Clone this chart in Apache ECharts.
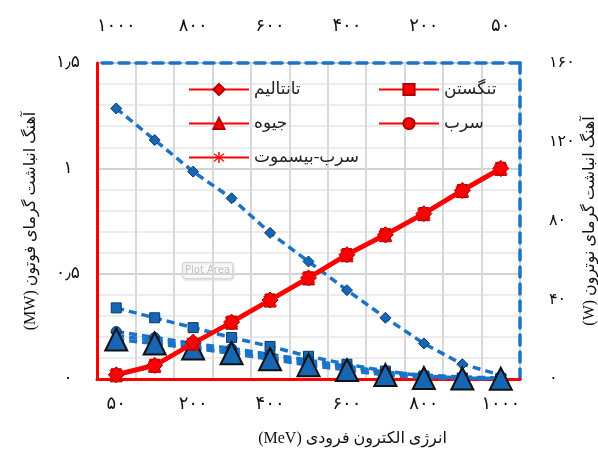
<!DOCTYPE html>
<html>
<head>
<meta charset="utf-8">
<script src="https://cdn.jsdelivr.net/npm/echarts@6/dist/echarts.min.js"></script>
<style>
  html, body { margin: 0; padding: 0; background: #fff; }
  #chart { width: 598px; height: 449px; }
</style>
</head>
<body>
<div id="chart"></div>
<script>
// Incident electron energy (MeV)
const categories = ['50', '100', '200', '300', '400', '500', '600', '700', '800', '900', '1000'];

// Material names (legend)
const materials = ['تانتالیم', 'تنگستن', 'جیوه', 'سرب', 'سرب-بیسموت'];

// Photon heat deposition rate (MW), left axis
const photonTantalum    = [0.02, 0.065, 0.175, 0.27, 0.375, 0.48, 0.59, 0.685, 0.785, 0.895, 1.0];
const photonTungsten    = [0.025, 0.07, 0.17, 0.275, 0.38, 0.485, 0.595, 0.69, 0.79, 0.9, 1.005];
const photonMercury     = [0.015, 0.06, 0.165, 0.265, 0.37, 0.475, 0.585, 0.68, 0.78, 0.89, 0.995];
const photonLead        = [0.02, 0.065, 0.17, 0.27, 0.375, 0.48, 0.59, 0.685, 0.785, 0.895, 1.0];
const photonLeadBismuth = [0.02, 0.06, 0.17, 0.27, 0.37, 0.48, 0.59, 0.68, 0.785, 0.89, 0.995];

// Neutron heat deposition rate (W), right axis
const neutronTantalum    = [137, 121, 105, 91.5, 74, 59.5, 45, 31, 18, 7.5, 2];
const neutronTungsten    = [36, 31, 26, 21, 16.5, 11.5, 7.5, 4, 1.5, 0.5, 0.2];
const neutronMercury     = [20, 18, 15.5, 13, 10, 7, 4.5, 2, 0.5, 0.2, 0.1];
const neutronLead        = [24, 21, 18, 15.5, 12.5, 9.5, 6.5, 3.5, 2, 1, 0.5];
const neutronLeadBismuth = [22, 19.5, 16.5, 14, 11, 8.5, 5.5, 3, 1.5, 0.8, 0.3];

// Axis ticks
const leftTicks = [0, 0.5, 1, 1.5];
const rightTicks = [0, 40, 80, 120, 160];

const FA_DIGITS = '۰۱۲۳۴۵۶۷۸۹';
function toPersian(v) {
  return String(v).replace(/[0-9]/g, d => FA_DIGITS[+d]).replace('.', '٫');
}
function rtl(s) { return '\u202B' + s + '\u202C'; }

const FONT = 'Liberation Serif, DejaVu Sans';
const RED = '#ff0000';
const BLUE = '#1a73c6';

const asterisk = 'path://M-1,-10L1,-10L1,10L-1,10Z' +
  'M-6.3,-7.7L7.7,6.3L6.3,7.7L-7.7,-6.3Z' +
  'M-6.3,7.7L7.7,-6.3L6.3,-7.7L-7.7,6.3Z';

const symbols = ['diamond', 'rect', 'triangle', 'circle', asterisk];
const redSizes = [16, 10, 12, 10, 14];
const redZ = [6, 5, 5, 5, 5];
const blueSizes = [11, 10, 22, 10, 11];
const photon = [photonTantalum, photonTungsten, photonMercury, photonLead, photonLeadBismuth];
const neutron = [neutronTantalum, neutronTungsten, neutronMercury, neutronLead, neutronLeadBismuth];

const series = [];
materials.forEach((name, i) => {
  series.push({
    name: name,
    type: 'line',
    xAxisIndex: 0,
    yAxisIndex: 0,
    data: photon[i],
    symbol: symbols[i],
    symbolSize: redSizes[i],
    clip: false,
    z: redZ[i],
    lineStyle: { color: RED, width: 3 },
    itemStyle: { color: RED, borderColor: '#b00000', borderWidth: i === 4 ? 0 : 1 }
  });
});
materials.forEach((name, i) => {
  const tri = symbols[i] === 'triangle';
  series.push({
    name: name,
    type: 'line',
    xAxisIndex: 0,
    yAxisIndex: 1,
    data: neutron[i],
    symbol: symbols[i],
    symbolSize: blueSizes[i],
    clip: false,
    z: tri ? 4 : 3,
    lineStyle: { color: BLUE, width: 3.5, type: [8, 5] },
    itemStyle: {
      color: '#1766b3',
      borderColor: tri ? '#111' : '#0b3a68',
      borderWidth: tri ? 2 : 1
    }
  });
});

const legendText = { fontFamily: FONT, fontSize: 17, color: '#222' };

const option = {
  animation: false,
  backgroundColor: '#fff',
  textStyle: { fontFamily: FONT },
  grid: { left: 97, right: 78, top: 63, bottom: 70, containLabel: false, outerBoundsMode: 'none' },
  legend: [
    {
      data: [materials[0], materials[2], materials[4]],
      orient: 'vertical', left: 183, top: 76,
      itemWidth: 60, itemHeight: 14, itemGap: 17,
      textStyle: legendText,
      formatter: n => rtl(n)
    },
    {
      data: [materials[1], materials[3]],
      orient: 'vertical', left: 373, top: 76,
      itemWidth: 60, itemHeight: 14, itemGap: 17,
      textStyle: legendText,
      formatter: n => rtl(n)
    }
  ],
  xAxis: [
    {
      type: 'category',
      data: categories,
      position: 'bottom',
      boundaryGap: true,
      name: rtl('انرژی الکترون فرودی (MeV)'),
      nameLocation: 'middle',
      nameGap: 52,
      nameMoveOverlap: false,
      nameTextStyle: { fontFamily: FONT, fontSize: 16, color: '#111', padding: [0, 0, 0, 88] },
      axisLine: { show: true, onZero: false, lineStyle: { color: RED, width: 3 } },
      axisTick: { show: false },
      axisLabel: { interval: 1, margin: 16, fontSize: 18, color: '#111', formatter: v => toPersian(v) },
      splitLine: { show: true, interval: 0, lineStyle: { color: '#d9d9d9', width: 2 } }
    },
    {
      type: 'category',
      data: categories,
      position: 'top',
      inverse: true,
      boundaryGap: true,
      axisLine: { show: true, onZero: false, lineStyle: { color: BLUE, width: 3.5, type: [10, 7] } },
      axisTick: { show: false },
      axisLabel: { interval: 1, margin: 28, fontSize: 18, color: '#111', formatter: v => toPersian(v) },
      splitLine: { show: false }
    }
  ],
  yAxis: [
    {
      type: 'value',
      position: 'left',
      min: leftTicks[0],
      max: leftTicks[leftTicks.length - 1],
      interval: 0.5,
      name: rtl('آهنگ انباشت گرمای فوتون (MW)'),
      nameLocation: 'middle',
      nameRotate: 90,
      nameGap: 58,
      nameMoveOverlap: false,
      nameTextStyle: { fontFamily: FONT, fontSize: 16, color: '#111' },
      axisLine: { show: true, onZero: false, lineStyle: { color: RED, width: 3 } },
      axisTick: { show: false },
      axisLabel: { margin: 29, align: 'center', fontSize: 17, color: '#111', formatter: v => toPersian(v) },
      splitLine: { show: true, lineStyle: { color: '#d2d2d2', width: 2 } },
      minorTick: { show: false, splitNumber: 5 },
      minorSplitLine: { show: true, lineStyle: { color: '#ececec', width: 2 } }
    },
    {
      type: 'value',
      position: 'right',
      min: rightTicks[0],
      max: rightTicks[rightTicks.length - 1],
      interval: 40,
      name: rtl('آهنگ انباشت گرمای نوترون (W)'),
      nameLocation: 'middle',
      nameRotate: 90,
      nameGap: 62,
      nameMoveOverlap: false,
      nameTextStyle: { fontFamily: FONT, fontSize: 16, color: '#111' },
      axisLine: { show: true, onZero: false, lineStyle: { color: BLUE, width: 3.5, type: [10, 7] } },
      axisTick: { show: false },
      axisLabel: { margin: 29, fontSize: 16, color: '#111', formatter: v => toPersian(v) },
      splitLine: { show: false }
    }
  ],
  graphic: [
    {
      type: 'group',
      left: 182, top: 262, z: 10,
      children: [
        {
          type: 'rect',
          shape: { x: 0, y: 0, width: 50, height: 16, r: 2 },
          style: { fill: '#fbfbfb', stroke: '#d4d4d4', lineWidth: 1, shadowColor: 'rgba(0,0,0,0.15)', shadowBlur: 3, shadowOffsetX: 1, shadowOffsetY: 1 }
        },
        {
          type: 'text',
          x: 25, y: 8,
          style: { text: 'Plot Area', fill: '#bdbdbd', font: '10px DejaVu Sans', align: 'center', verticalAlign: 'middle' }
        }
      ]
    }
  ],
  series: series
};

const chart = echarts.init(document.getElementById('chart'), null, { renderer: 'canvas' });
chart.setOption(option);
</script>
</body>
</html>
